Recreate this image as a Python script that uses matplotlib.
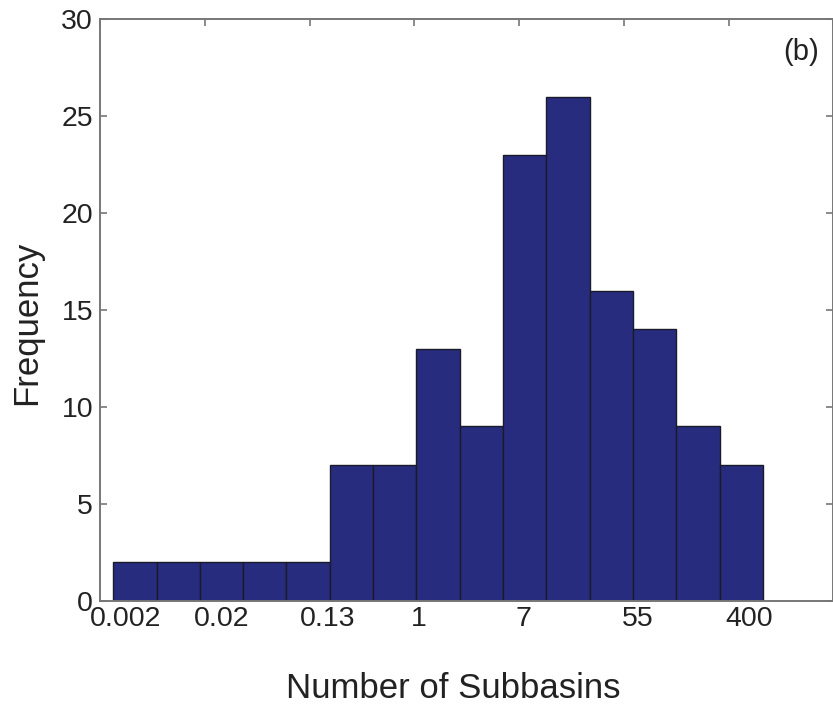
import matplotlib
matplotlib.use('Agg')
import matplotlib.pyplot as plt
import numpy as np

plt.rcParams['font.family'] = ['Liberation Sans', 'DejaVu Sans']

# histogram counts (15 bins)
counts = [2, 2, 2, 2, 2, 7, 7, 13, 9, 23, 26, 16, 14, 9, 7]
# x tick labels (placed as text under the axis)
xlabels = ['0.002', '0.02', '0.13', '1', '7', '55', '400']
xlabel_pos = [0.24, 1.16, 2.17, 3.04, 4.04, 5.13, 6.20]
yticks = [0, 5, 10, 15, 20, 25, 30]

bin_start = 0.127
bin_width = 0.4133
spine_col = '#777777'
text_col = '#222222'

fig = plt.figure(figsize=(8.33, 7.08), dpi=100)
ax = fig.add_axes([0.12, 0.1511, 0.8805, 0.8221])

x = bin_start + bin_width * np.arange(len(counts))
ax.bar(x, counts, width=bin_width, align='edge', color='#272c7e',
       edgecolor='#1a1a2a', linewidth=1.0, zorder=1)

ax.set_xlim(0, 7)
ax.set_ylim(0, 30)

# x ticks only on the top, no labels
ax.set_xticks(np.arange(0, 8))
ax.tick_params(axis='x', which='both', bottom=False, top=True, labelbottom=False,
               direction='in', length=5, width=1.2, color=spine_col)
ax.set_yticks(yticks)
ax.tick_params(axis='y', which='both', left=True, right=True, direction='in',
               length=5, width=1.2, color=spine_col, labelsize=20.5,
               labelcolor=text_col, pad=5)

for s in ax.spines.values():
    s.set_color(spine_col)
    s.set_linewidth(1.4)

for pos, lab in zip(xlabel_pos, xlabels):
    ax.text(pos, -0.008, lab, transform=ax.get_xaxis_transform(),
            ha='center', va='top', fontsize=20.5, color=text_col)

fig.text(453 / 833, 1 - 689 / 708, 'Number of Subbasins', ha='center', va='center',
         fontsize=25, color=text_col)
fig.text(27 / 833, 1 - 323 / 708, 'Frequency', ha='center', va='center',
         rotation=90, fontsize=25, color=text_col)
fig.text(801 / 833, 1 - 52 / 708, '(b)', ha='center', va='center',
         fontsize=21, color=text_col)

fig.savefig('out.png', dpi=100)
